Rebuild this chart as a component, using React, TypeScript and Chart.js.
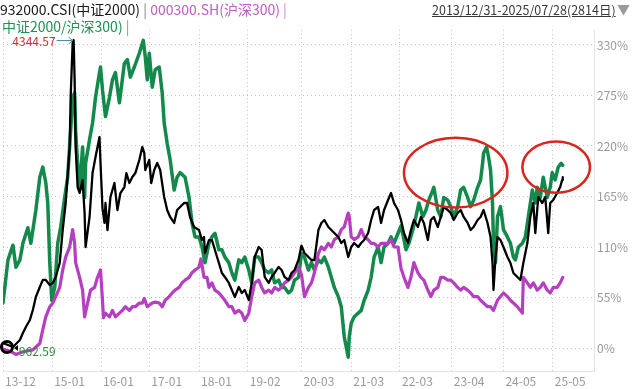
import React, { useEffect, useRef } from "react";
import { Chart, registerables } from "chart.js";

Chart.register(...registerables);

// x axis: trading-day offset from 2013/12/31 (2814 days)
const tickDays = [0, 247, 493, 735, 985, 1230, 1500, 1750, 1995, 2255, 2515, 2763];
const tickLabels = ["13-12", "15-01", "16-01", "17-01", "18-01", "19-02", "20-03", "21-03", "22-03", "23-04", "24-05", "25-05"];
const pctTicks = [0, 55, 110, 165, 220, 275, 330];

// 中证2000/沪深300 (green, % scale)
const ratioDays = [0, 25, 50, 65, 85, 100, 125, 140, 165, 185, 200, 215, 225, 235, 245, 260, 275, 290, 310, 325, 340, 350, 360, 365, 375, 385, 400, 410, 415, 435, 450, 465, 485, 490, 500, 515, 535, 550, 565, 585, 610, 625, 640, 660, 685, 705, 715, 725, 735, 750, 765, 785, 800, 810, 825, 840, 860, 875, 890, 915, 935, 950, 965, 985, 1000, 1015, 1035, 1050, 1065, 1085, 1100, 1115, 1135, 1150, 1165, 1185, 1200, 1215, 1235, 1250, 1265, 1285, 1300, 1315, 1335, 1350, 1365, 1385, 1400, 1415, 1435, 1450, 1465, 1485, 1500, 1515, 1535, 1550, 1565, 1585, 1600, 1615, 1635, 1650, 1665, 1685, 1700, 1715, 1735, 1740, 1750, 1765, 1785, 1800, 1815, 1835, 1850, 1865, 1885, 1900, 1915, 1935, 1950, 1965, 1985, 2000, 2015, 2025, 2040, 2060, 2075, 2090, 2110, 2125, 2140, 2160, 2165, 2185, 2200, 2215, 2235, 2250, 2265, 2285, 2300, 2315, 2335, 2350, 2365, 2385, 2400, 2410, 2415, 2430, 2440, 2450, 2460, 2465, 2475, 2485, 2500, 2515, 2535, 2550, 2565, 2575, 2590, 2610, 2625, 2640, 2660, 2675, 2685, 2700, 2715, 2735, 2750, 2760, 2775, 2790, 2805, 2813];
const ratioPct = [49, 96, 112, 88, 96, 114, 131, 114, 150, 186, 197, 180, 158, 93, 52, 66, 114, 132, 164, 186, 237, 273, 278, 237, 201, 172, 219, 164, 201, 227, 245, 273, 300, 306, 281, 252, 273, 292, 300, 267, 310, 314, 295, 306, 321, 335, 317, 292, 321, 284, 303, 306, 278, 245, 223, 205, 172, 186, 191, 186, 164, 136, 121, 121, 110, 93, 114, 121, 125, 107, 107, 99, 93, 82, 74, 96, 93, 99, 85, 71, 99, 99, 93, 85, 82, 85, 71, 74, 66, 66, 60, 63, 74, 77, 103, 99, 85, 93, 85, 96, 93, 99, 88, 77, 66, 56, 45, 12, -10, 12, 27, 34, 38, 41, 52, 63, 77, 99, 110, 93, 110, 114, 121, 114, 125, 133, 118, 107, 114, 129, 143, 158, 143, 150, 161, 172, 175, 150, 143, 164, 161, 154, 143, 154, 172, 175, 164, 154, 161, 175, 183, 201, 212, 219, 208, 194, 158, 114, 93, 143, 154, 129, 121, 114, 99, 96, 110, 114, 121, 143, 172, 158, 175, 164, 186, 164, 175, 191, 183, 197, 201, 199];

// 000300.SH 沪深300 (purple, % change)
const hs300Days = [0, 40, 65, 100, 150, 175, 185, 200, 215, 235, 250, 265, 285, 300, 315, 335, 350, 360, 365, 385, 400, 410, 425, 440, 460, 475, 490, 500, 505, 515, 535, 550, 565, 585, 600, 615, 635, 650, 665, 685, 700, 710, 725, 750, 765, 785, 800, 815, 835, 850, 865, 885, 900, 915, 935, 950, 965, 985, 995, 1010, 1025, 1035, 1050, 1065, 1085, 1100, 1115, 1135, 1150, 1165, 1185, 1200, 1215, 1235, 1250, 1265, 1285, 1300, 1315, 1335, 1350, 1365, 1385, 1400, 1415, 1435, 1450, 1465, 1485, 1500, 1515, 1535, 1550, 1565, 1585, 1600, 1615, 1635, 1650, 1665, 1685, 1700, 1715, 1735, 1740, 1750, 1765, 1785, 1800, 1815, 1835, 1850, 1865, 1885, 1900, 1915, 1935, 1950, 1965, 1985, 2000, 2015, 2035, 2050, 2065, 2085, 2100, 2115, 2135, 2150, 2165, 2185, 2200, 2215, 2235, 2250, 2265, 2285, 2300, 2315, 2335, 2350, 2365, 2385, 2400, 2415, 2435, 2450, 2465, 2485, 2500, 2515, 2535, 2550, 2565, 2585, 2600, 2610, 2615, 2635, 2650, 2665, 2685, 2700, 2715, 2735, 2750, 2765, 2785, 2800, 2813];
const hs300Pct = [-1, -4, -7, -4, -2, 3, 5, 20, 34, 45, 49, 56, 66, 85, 99, 110, 129, 114, 93, 77, 63, 34, 49, 63, 66, 77, 85, 52, 33, 38, 34, 41, 34, 38, 41, 45, 41, 45, 45, 49, 49, 54, 45, 49, 50, 49, 45, 52, 56, 60, 63, 66, 71, 74, 77, 82, 85, 88, 97, 77, 77, 66, 71, 63, 60, 56, 52, 45, 45, 38, 41, 38, 30, 38, 56, 71, 74, 66, 60, 63, 60, 66, 63, 66, 71, 74, 77, 82, 88, 80, 56, 66, 71, 82, 103, 110, 107, 114, 110, 118, 121, 129, 132, 147, 143, 121, 118, 121, 129, 121, 118, 114, 114, 110, 114, 114, 114, 118, 110, 110, 87, 77, 66, 77, 93, 82, 77, 74, 63, 56, 63, 66, 77, 77, 74, 74, 71, 66, 63, 66, 63, 60, 56, 56, 52, 49, 45, 45, 41, 52, 56, 60, 56, 52, 49, 45, 41, 38, 77, 71, 66, 71, 63, 66, 71, 63, 60, 66, 66, 71, 77];

// 932000.CSI 中证2000 (black, index points)
const csiDays = [0, 25, 50, 85, 100, 115, 135, 150, 165, 185, 200, 215, 235, 250, 265, 285, 300, 315, 335, 340, 350, 355, 360, 365, 375, 385, 400, 410, 415, 435, 450, 465, 485, 490, 500, 510, 515, 525, 540, 560, 575, 590, 610, 620, 635, 650, 665, 685, 700, 710, 715, 735, 745, 760, 775, 790, 810, 825, 840, 860, 875, 890, 910, 925, 940, 960, 985, 1000, 1010, 1015, 1035, 1050, 1065, 1085, 1100, 1115, 1135, 1150, 1165, 1185, 1200, 1215, 1235, 1250, 1265, 1285, 1300, 1315, 1335, 1350, 1365, 1385, 1400, 1415, 1435, 1450, 1465, 1485, 1500, 1515, 1535, 1550, 1565, 1585, 1600, 1615, 1635, 1650, 1665, 1685, 1700, 1715, 1735, 1750, 1765, 1785, 1800, 1815, 1835, 1850, 1865, 1885, 1900, 1915, 1935, 1950, 1965, 1985, 2000, 2015, 2035, 2050, 2065, 2085, 2100, 2115, 2135, 2150, 2165, 2185, 2200, 2215, 2235, 2250, 2265, 2285, 2300, 2315, 2335, 2350, 2365, 2385, 2400, 2415, 2435, 2450, 2460, 2465, 2475, 2485, 2500, 2515, 2535, 2550, 2565, 2585, 2600, 2615, 2635, 2650, 2665, 2675, 2690, 2710, 2725, 2740, 2750, 2765, 2785, 2800, 2810, 2813];
const csiValues = [1007, 985, 962.59, 1040, 1117, 1183, 1260, 1370, 1513, 1624, 1701, 1701, 1646, 1668, 1734, 1888, 2251, 2549, 3166, 3717, 4311, 4344.57, 3904, 3166, 2725, 2659, 2802, 2439, 2064, 2395, 2879, 3056, 3276, 2989, 2490, 2329, 2549, 2251, 2615, 2769, 2472, 2659, 2725, 2879, 2769, 2835, 2879, 3023, 3166, 3100, 2912, 3023, 2769, 2912, 2989, 2912, 2615, 2472, 2395, 2329, 2472, 2505, 2549, 2549, 2395, 2285, 2251, 2140, 2174, 1998, 2141, 2141, 2031, 1888, 1778, 1734, 1668, 1591, 1513, 1624, 1558, 1591, 1480, 1668, 1954, 2064, 2031, 1734, 1668, 1734, 1778, 1844, 1811, 1734, 1701, 1778, 1811, 1921, 2080, 1998, 1954, 1921, 1921, 2251, 2329, 2362, 2285, 2251, 2218, 2174, 2108, 2141, 1954, 2064, 2108, 2064, 2108, 2141, 2218, 2362, 2472, 2505, 2329, 2472, 2582, 2659, 2549, 2472, 2362, 2218, 2108, 2251, 2362, 2285, 2395, 2329, 2141, 2362, 2395, 2285, 2395, 2505, 2472, 2439, 2362, 2439, 2472, 2395, 2329, 2251, 2285, 2362, 2395, 2472, 2329, 2174, 1888, 1591, 1954, 2174, 2141, 2064, 1954, 1888, 1778, 1734, 1701, 1888, 2108, 2395, 2549, 2218, 2615, 2549, 2615, 2218, 2549, 2582, 2659, 2725, 2802, 2835];

// highlighted regions (red ellipses), in axis units
const markDays = [2275, 2780];
const markPct = [191, 197];
const markDayRadius = [260, 170];
const markPctRadius = [38, 28];

const GREEN = "#138a4c";
const PURPLE = "#b63ec0";
const BLACK = "#000000";
const FONT = "'Noto Sans CJK SC', 'Noto Sans', sans-serif";

const overlayPlugin = {
  id: "overlay",
  afterDatasetsDraw(chart: any) {
    const { ctx, scales } = chart;
    const xs = scales.x;
    const ys = scales.y;
    const y2 = scales.y2;
    ctx.save();
    // ellipses
    ctx.strokeStyle = "#d8251d";
    ctx.lineWidth = 2.5;
    for (let i = 0; i < markDays.length; i++) {
      const cx = xs.getPixelForValue(markDays[i]);
      const cy = ys.getPixelForValue(markPct[i]);
      const rx = Math.abs(xs.getPixelForValue(markDays[i] + markDayRadius[i]) - cx);
      const ry = Math.abs(ys.getPixelForValue(markPct[i] + markPctRadius[i]) - cy);
      ctx.beginPath();
      ctx.ellipse(cx, cy, rx, ry, 0, 0, Math.PI * 2);
      ctx.stroke();
    }
    // max / min labels of the black series
    let maxI = 0, minI = 0;
    csiValues.forEach((v, i) => {
      if (v > csiValues[maxI]) maxI = i;
      if (v < csiValues[minI]) minI = i;
    });
    const mx = xs.getPixelForValue(csiDays[maxI]);
    const my = y2.getPixelForValue(csiValues[maxI]);
    ctx.font = `12px ${FONT}`;
    ctx.fillStyle = "#c8312c";
    ctx.textAlign = "right";
    ctx.textBaseline = "middle";
    ctx.fillText(csiValues[maxI].toFixed(2), mx - 18, my + 1);
    ctx.strokeStyle = "#4d8ea6";
    ctx.lineWidth = 1;
    ctx.beginPath();
    ctx.moveTo(mx - 17, my + 0.5);
    ctx.lineTo(mx - 1, my + 0.5);
    ctx.moveTo(mx - 5, my - 3);
    ctx.lineTo(mx - 1, my + 0.5);
    ctx.lineTo(mx - 5, my + 4);
    ctx.stroke();

    const nx = xs.getPixelForValue(csiDays[minI]);
    const ny = y2.getPixelForValue(csiValues[minI]);
    ctx.strokeStyle = "#000";
    ctx.lineWidth = 3;
    ctx.beginPath();
    ctx.arc(nx - 6, ny, 5.5, 0, Math.PI * 2);
    ctx.stroke();
    ctx.fillStyle = "#000";
    ctx.beginPath();
    ctx.moveTo(nx + 1, ny + 1);
    ctx.lineTo(nx + 5, ny - 2);
    ctx.lineTo(nx + 5, ny + 4);
    ctx.closePath();
    ctx.fill();
    ctx.fillStyle = "#2e8a3e";
    ctx.textAlign = "left";
    ctx.fillText(csiValues[minI].toFixed(2), nx + 6, ny + 4);
    ctx.restore();
  },
};

export default function App() {
  const canvasRef = useRef<HTMLCanvasElement | null>(null);

  useEffect(() => {
    document.body.style.margin = "0";
    const canvas = canvasRef.current!;
    const chart = new Chart(canvas, {
      type: "line",
      data: {
        datasets: [
          {
            label: "932000.CSI(中证2000)",
            data: csiDays.map((d, i) => ({ x: d, y: csiValues[i] })),
            borderColor: BLACK,
            borderWidth: 2.3,
            pointRadius: 0,
            yAxisID: "y2",
            order: 1,
          },
          {
            label: "000300.SH(沪深300)",
            data: hs300Days.map((d, i) => ({ x: d, y: hs300Pct[i] })),
            borderColor: PURPLE,
            borderWidth: 3.2,
            pointRadius: 0,
            yAxisID: "y",
            order: 2,
          },
          {
            label: "中证2000/沪深300",
            data: ratioDays.map((d, i) => ({ x: d, y: ratioPct[i] })),
            borderColor: GREEN,
            borderWidth: 3.5,
            pointRadius: 0,
            yAxisID: "y",
            order: 3,
          },
        ],
      },
      options: {
        responsive: false,
        animation: false,
        events: [],
        layout: { padding: { top: 30, left: 0, right: 0, bottom: 0 } },
        elements: { line: { tension: 0, borderJoinStyle: "round", borderCapStyle: "round" } },
        plugins: { legend: { display: false }, tooltip: { enabled: false } },
        scales: {
          x: {
            type: "linear",
            min: 0,
            max: 2970,
            afterBuildTicks: (s: any) => {
              s.ticks = tickDays.map((v) => ({ value: v }));
            },
            afterFit: (s: any) => {
              s.height = 18;
            },
            ticks: {
              callback: (_v: any, i: number) => tickLabels[i],
              autoSkip: false,
              maxRotation: 0,
              minRotation: 0,
              align: "start",
              labelOffset: 2,
              padding: 3,
              color: "#9a9a9a",
              font: { family: FONT, size: 12 },
            },
            grid: { color: "#c4c4c4", drawTicks: false, lineWidth: 1 },
            border: { display: true, color: "#e4e4e4", dash: [1, 3] },
          },
          y: {
            position: "right",
            min: -25,
            max: 346.3,
            afterBuildTicks: (s: any) => {
              s.ticks = pctTicks.map((v) => ({ value: v }));
            },
            afterFit: (s: any) => {
              s.width = 42;
            },
            ticks: {
              callback: (v: any) => `${v}%`,
              padding: 3,
              color: "#9a9a9a",
              font: { family: FONT, size: 12 },
            },
            grid: { color: "#c4c4c4", drawTicks: false, lineWidth: 1 },
            border: { display: true, color: "#e4e4e4", dash: [1, 3] },
          },
          y2: {
            display: false,
            min: 698,
            max: 4455,
          },
        },
      },
      plugins: [overlayPlugin],
    } as any);
    return () => chart.destroy();
  }, []);

  const txt: React.CSSProperties = {
    position: "absolute",
    fontFamily: FONT,
    fontSize: 14,
    lineHeight: "18px",
    whiteSpace: "nowrap",
  };

  return (
    <div style={{ position: "relative", width: 636, height: 389, background: "#fff", overflow: "hidden" }}>
      <canvas ref={canvasRef} width={636} height={389} style={{ position: "absolute", left: 0, top: 0 }} />
      <div style={{ ...txt, left: 0, top: 0 }}>
        <span style={{ color: "#1a1a1a" }}>932000.CSI(中证2000)</span>
        <span style={{ color: "#7a8a6a" }}> | </span>
        <span style={{ color: "#c05cc6" }}>000300.SH(沪深300)</span>
        <span style={{ color: "#c88ccc" }}> |</span>
      </div>
      <div style={{ ...txt, left: 2, top: 17 }}>
        <span style={{ color: "#1f8f56" }}>中证2000/沪深300)</span>
        <span style={{ color: "#6aa888" }}> |</span>
      </div>
      <div style={{ ...txt, left: 432, top: 1, fontSize: 12.5, color: "#3a3a3a", textDecoration: "underline" }}>
        2013/12/31-2025/07/28(2814日)
      </div>
      <div style={{ ...txt, left: 617, top: 0, fontSize: 13, color: "#9a9a9a" }}>▼</div>
    </div>
  );
}
